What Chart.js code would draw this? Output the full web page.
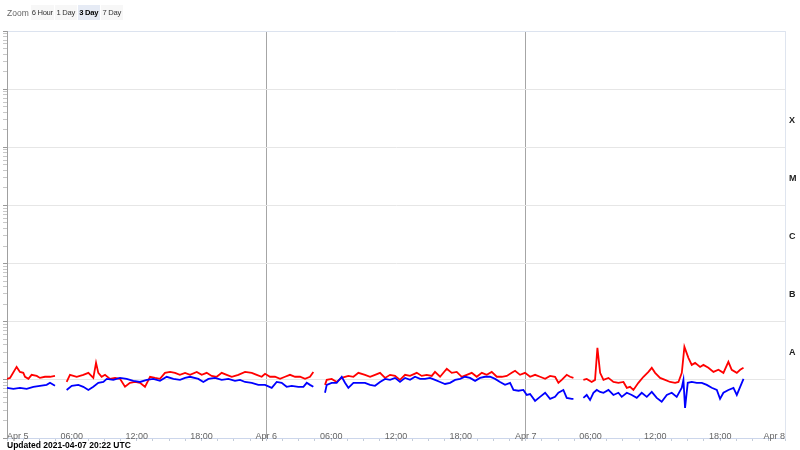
<!DOCTYPE html>
<html>
<head>
<meta charset="utf-8">
<script src="https://cdn.jsdelivr.net/npm/chart.js@4.4.0/dist/chart.umd.min.js"></script>
<style>
  html, body { margin: 0; padding: 0; background: #fff; }
  #wrap { position: relative; width: 800px; height: 450px; font-family: "Liberation Sans", Arial, sans-serif; }
  #chart { position: absolute; left: 0; top: 0; }
  #zoom { position: absolute; left: 7px; top: 5px; height: 15px; display: flex; align-items: center; font-size: 8.5px; color: #666; }
  #buttons { display: flex; margin-left: 2px; }
  #zoom .btn { background: #f7f7f7; color: #333; width: 22px; margin-left: 1px; line-height: 15px; font-size: 7.6px; letter-spacing: -0.3px; text-align: center; white-space: nowrap; }
  #zoom .btn:first-child { margin-left: 0; width: 23px; }
  #zoom .sel { background: #e6ebf5; font-weight: bold; color: #000; }
  #updated { position: absolute; left: 7px; top: 440px; font-size: 8.5px; font-weight: bold; color: #000; white-space: nowrap; }
</style>
</head>
<body>
<div id="wrap">
  <canvas id="chart" width="800" height="450"></canvas>
  <div id="zoom">Zoom<span id="buttons"></span></div>
  <div id="updated"></div>
</div>
<script>
// Time in hours since Apr 5 00:00 UTC, flux in units of 1e-8 W/m2 (null = data gap)
const FLUX_UNIT = 1e-8;

const redHours = [0, 0.28, 0.89, 1.20, 1.51, 1.67, 1.98, 2.28, 2.75, 3.05, 3.52, 3.98, 4.44, 5.0,
  5.52, 5.83, 6.45, 7.06, 7.53, 7.99, 8.24, 8.45, 8.76, 9.07, 9.53, 10.0, 10.46, 10.92, 11.38, 11.85,
  12.31, 12.77, 13.24, 13.7, 14.16, 14.62, 15.09, 15.55, 16.0, 16.48, 16.94, 17.56, 18.02, 18.48,
  18.94, 19.41, 19.87, 20.33, 20.8, 21.41, 22.03, 22.65, 23.11, 23.57, 23.88, 24.34, 24.8, 25.27,
  25.73, 26.19, 26.66, 27.12, 27.58, 28.04, 28.35, 28.9,
  29.43, 29.59, 30.05, 30.51, 30.98, 31.59, 32.06, 32.52, 33.13, 33.6, 34.06, 34.52, 34.99, 35.45,
  35.91, 36.37, 36.84, 37.3, 37.92, 38.38, 38.84, 39.31, 39.61, 40.08, 40.7, 41.16, 41.62, 42.08,
  42.55, 43.01, 43.47, 43.94, 44.4, 44.86, 45.33, 45.79, 46.25, 46.71, 47.02, 47.48, 47.94, 48.41,
  48.87, 49.33, 49.8, 50.26, 50.72, 51.03, 51.34, 51.8, 52.11, 52.42, 52.9,
  53.34, 53.65, 54.11, 54.42, 54.64, 54.89, 55.2, 55.66, 56.12, 56.58, 57.05, 57.36, 57.66, 57.97,
  58.43, 58.9, 59.36, 59.67, 59.98, 60.44, 60.9, 61.37, 61.83, 62.14, 62.45, 62.69, 63.06, 63.37,
  63.68, 64.14, 64.45, 64.91, 65.38, 65.84, 66.3, 66.76, 67.07, 67.54, 67.85, 68.16];

const redFlux = [1.04, 1.08, 1.67, 1.37, 1.32, 1.13, 1.04, 1.22, 1.17, 1.08, 1.13, 1.13, 1.17, null,
  0.92, 1.22, 1.13, 1.22, 1.32, 1.08, 1.96, 1.32, 1.13, 1.22, 1.04, 1.08, 1.04, 0.76, 0.89, 0.92,
  0.89, 0.76, 1.13, 1.08, 1.04, 1.32, 1.37, 1.32, 1.22, 1.32, 1.22, 1.37, 1.22, 1.32,
  1.17, 1.13, 1.32, 1.22, 1.13, 1.22, 1.37, 1.32, 1.22, 1.13, 1.27, 1.13, 1.13, 1.04,
  1.13, 1.22, 1.13, 1.13, 1.04, 1.13, 1.37, null,
  0.82, 1.0, 1.04, 0.92, 1.08, 1.17, 1.13, 1.32, 1.22, 1.13, 1.22, 1.32, 1.08, 1.22,
  1.17, 1.0, 1.22, 1.17, 1.32, 1.17, 1.22, 1.17, 1.37, 1.13, 1.55, 1.32, 1.37, 1.13,
  1.22, 1.32, 1.13, 1.32, 1.22, 1.37, 1.13, 1.13, 1.17, 1.32, 1.43, 1.22, 1.32, 1.13,
  1.22, 1.13, 1.04, 1.17, 1.13, 0.89, 1.0, 1.22, 1.13, 1.08, null,
  1.0, 1.04, 0.92, 1.0, 3.55, 1.32, 1.0, 1.08, 0.92, 0.89, 0.92, 0.73, 0.76, 0.67,
  0.89, 1.13, 1.37, 1.61, 1.32, 1.08, 1.0, 0.92, 0.89, 0.92, 1.32, 3.70, 2.39, 1.81,
  1.96, 1.67, 1.81, 1.61, 1.37, 1.49, 1.32, 2.04, 1.49, 1.32, 1.49, 1.61];

const blueHours = [0, 0.59, 1.20, 1.82, 2.44, 3.05, 3.67, 3.98, 4.44, 5.0,
  5.52, 5.99, 6.60, 7.06, 7.53, 7.99, 8.45, 8.92, 9.23, 9.84, 10.46, 11.07, 11.69, 12.31, 12.93,
  13.54, 14.16, 14.78, 15.4, 16.01, 16.48, 16.94, 17.71, 18.17, 18.64, 19.25, 19.87, 20.49, 21.1,
  21.57, 22.03, 22.65, 23.26, 23.88, 24.5, 24.96, 25.42, 25.88, 26.35, 26.96, 27.43, 27.74, 28.04,
  28.35, 28.9,
  29.43, 29.59, 30.05, 30.51, 30.98, 31.28, 31.59, 32.06, 32.52, 33.13, 33.6, 34.06, 34.52, 34.99,
  35.45, 35.91, 36.37, 36.84, 37.3, 37.76, 38.23, 38.69, 39.15, 39.61, 40.08, 40.54, 41.0, 41.47,
  41.93, 42.39, 42.85, 43.32, 43.78, 44.24, 44.71, 45.17, 45.63, 46.09, 46.56, 46.87, 47.33, 47.79,
  48.1, 48.41, 48.87, 49.33, 49.8, 50.26, 50.72, 51.03, 51.49, 51.8, 52.27, 52.42, 52.9,
  53.34, 53.65, 53.96, 54.27, 54.58, 54.89, 55.2, 55.66, 56.12, 56.58, 56.89, 57.36, 57.82, 58.28,
  58.74, 59.21, 59.67, 60.13, 60.59, 61.06, 61.52, 61.98, 62.45, 62.6, 62.75, 63.0, 63.37, 63.83,
  64.3, 64.76, 65.22, 65.69, 65.99, 66.3, 66.76, 67.23, 67.54, 67.85, 68.16];

const blueFlux = [0.73, 0.70, 0.73, 0.70, 0.76, 0.79, 0.82, 0.89, 0.79, null,
  0.67, 0.79, 0.82, 0.76, 0.67, 0.76, 0.89, 0.92, 1.04, 1.0, 1.08, 1.04, 0.96, 0.92, 1.0,
  1.04, 0.96, 1.13, 1.04, 1.0, 1.08, 1.13, 1.04, 0.92, 1.04, 1.08, 1.0, 1.04, 0.96,
  1.0, 0.92, 0.89, 0.82, 0.82, 0.73, 0.92, 0.89, 0.76, 0.79, 0.76, 0.76, 0.89, 0.82,
  0.76, null,
  0.60, 0.82, 0.89, 0.89, 1.13, 0.89, 0.73, 0.89, 0.89, 0.89, 0.82, 0.79, 0.92, 1.04,
  1.0, 1.08, 0.92, 1.08, 1.0, 1.13, 1.04, 1.04, 1.08, 1.0, 0.92, 0.85, 0.89, 1.0,
  1.04, 1.13, 1.08, 0.96, 1.08, 1.13, 1.13, 1.04, 0.92, 0.82, 0.89, 0.67, 0.65, 0.67,
  0.55, 0.57, 0.435, 0.51, 0.60, 0.47, 0.51, 0.60, 0.67, 0.49, 0.47, 0.47, null,
  0.49, 0.55, 0.45, 0.60, 0.67, 0.62, 0.60, 0.67, 0.55, 0.60, 0.51, 0.60, 0.55, 0.49,
  0.60, 0.51, 0.62, 0.49, 0.42, 0.55, 0.60, 0.51, 0.73, 1.0, 0.33, 0.89, 0.92, 0.89,
  0.89, 0.82, 0.73, 0.67, 0.47, 0.60, 0.67, 0.73, 0.55, 0.76, 1.04];

// Axes
const dayLabels = ['Apr 5', 'Apr 6', 'Apr 7', 'Apr 8'];
const hourLabels = ['06:00', '12:00', '18:00'];
const hoursPerLabel = 6;
const minorStep = 1.5;
const classLabels = ['A', 'B', 'C', 'M', 'X'];
const classStart = [1e-8, 1e-7, 1e-6, 1e-5, 1e-4];
const yMin = 1e-9, yMax = 1e-2;
const zoomButtons = ['6 Hour', '1 Day', '3 Day', '7 Day'];
const selectedButton = '3 Day';
const updatedText = 'Updated 2021-04-07 20:22 UTC';

// header / footer text
const btnWrap = document.getElementById('buttons');
zoomButtons.forEach(b => {
  const s = document.createElement('span');
  s.className = 'btn' + (b === selectedButton ? ' sel' : '');
  s.textContent = b;
  btnWrap.appendChild(s);
});
document.getElementById('updated').textContent = updatedText;

function toPoints(hours, flux) {
  return hours.map((h, i) => ({ x: h, y: flux[i] === null ? null : flux[i] * FLUX_UNIT }));
}

const xTicks = [];
for (let h = 0; h <= 72; h += minorStep) xTicks.push(h);

const yTicks = [];
for (let e = -9; e <= -2; e++) {
  for (let s = 1; s <= 9; s++) {
    const v = s * Math.pow(10, e);
    if (v <= yMax * 1.0001) yTicks.push(v);
  }
}

function isDecade(v) {
  const l = Math.log10(v);
  return Math.abs(l - Math.round(l)) < 1e-6;
}

function xLabel(v) {
  if (v % 24 === 0) return dayLabels[v / 24];
  if (v % hoursPerLabel === 0) return hourLabels[(v % 24) / hoursPerLabel - 1];
  return '';
}

const classMid = classStart.map(v => v * Math.sqrt(10));

Chart.defaults.font.family = '"Liberation Sans", Arial, sans-serif';

new Chart(document.getElementById('chart'), {
  type: 'line',
  data: {
    datasets: [
      {
        label: '0.1-0.8 nm',
        data: toPoints(redHours, redFlux),
        borderColor: '#ff0000',
        borderWidth: 1.8,
        pointRadius: 0,
        spanGaps: false,
        yAxisID: 'y',
        order: 1
      },
      {
        label: '0.05-0.4 nm',
        data: toPoints(blueHours, blueFlux),
        borderColor: '#0000ff',
        borderWidth: 1.8,
        pointRadius: 0,
        spanGaps: false,
        yAxisID: 'y',
        order: 0
      }
    ]
  },
  options: {
    responsive: false,
    animation: false,
    devicePixelRatio: 1,
    layout: { padding: { top: 31, left: 0, right: 0, bottom: 0 } },
    plugins: { legend: { display: false }, tooltip: { enabled: false } },
    scales: {
      x: {
        type: 'linear',
        min: 0,
        max: 72,
        afterBuildTicks: s => { s.ticks = xTicks.map(v => ({ value: v })); },
        afterFit: s => { s.height = 12; s.paddingLeft = 0; s.paddingRight = 0; },
        grid: {
          color: ctx => (ctx.tick && ctx.tick.value % 24 === 0 && ctx.tick.value > 0 && ctx.tick.value < 72) ? '#a6a6a6' : 'rgba(0,0,0,0)',
          tickColor: '#c4ccd8',
          tickLength: 3
        },
        border: { color: '#ccd6eb' },
        ticks: {
          autoSkip: false,
          maxRotation: 0,
          align: 'inner',
          mirror: true,
          padding: -3.5,
          color: '#666',
          font: { size: 9 },
          callback: v => xLabel(v)
        }
      },
      y: {
        type: 'logarithmic',
        position: 'left',
        min: yMin,
        max: yMax,
        afterBuildTicks: s => { s.ticks = yTicks.map(v => ({ value: v })); },
        afterFit: s => { s.width = 7; s.paddingTop = 0; s.paddingBottom = 0; },
        ticks: { display: false },
        grid: {
          color: ctx => {
            if (!ctx.tick) return 'rgba(0,0,0,0)';
            if (Math.abs(ctx.tick.value - yMax) < yMax * 1e-6) return '#dce3ef';
            return isDecade(ctx.tick.value) ? '#e6e6e6' : 'rgba(0,0,0,0)';
          },
          tickColor: ctx => (ctx.tick && isDecade(ctx.tick.value)) ? '#999' : '#c8c8c8',
          tickLength: 4
        },
        border: { color: '#a0a0a0' }
      },
      y2: {
        type: 'logarithmic',
        position: 'right',
        min: yMin,
        max: yMax,
        afterBuildTicks: s => { s.ticks = classMid.map(v => ({ value: v })); },
        afterFit: s => { s.width = 15; s.paddingTop = 0; s.paddingBottom = 0; },
        grid: { drawOnChartArea: false, drawTicks: false },
        border: { color: '#dfe5ef' },
        ticks: {
          padding: 4,
          labelOffset: 2,
          color: '#222',
          font: { size: 9, weight: 'bold' },
          callback: v => {
            const i = classMid.findIndex(m => Math.abs(m - v) < m * 1e-6);
            return i >= 0 ? classLabels[i] : '';
          }
        }
      }
    }
  }
});
</script>
</body>
</html>
